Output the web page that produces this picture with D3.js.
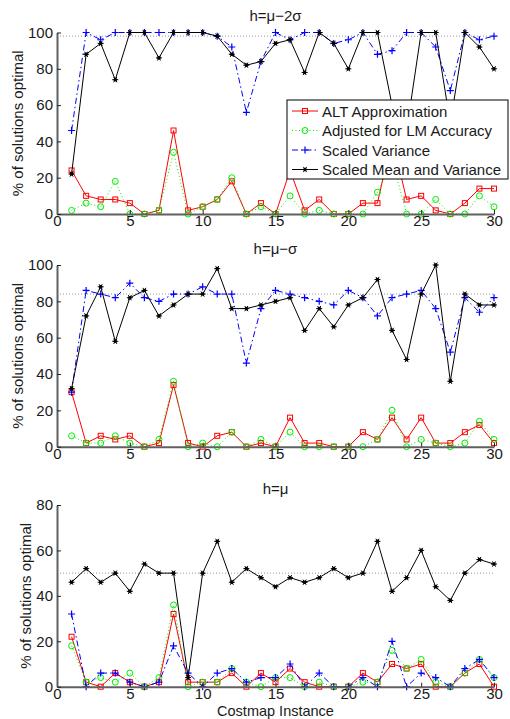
<!DOCTYPE html>
<html>
<head>
<meta charset="utf-8">
<script src="https://cdn.jsdelivr.net/npm/d3@7"></script>
<style>
    body { margin: 0; background: #fff; }
    svg text { font-family: "Liberation Sans", Arial, sans-serif; font-size: 15px; fill: #1a1a1a; }
</style>
</head>
<body>
<div id="chart"></div>
<script>
// costmap instance numbers (x axis)
const instances = [1, 2, 3, 4, 5, 6, 7, 8, 9, 10, 11, 12, 13, 14, 15,
    16, 17, 18, 19, 20, 21, 22, 23, 24, 25, 26, 27, 28, 29, 30];
const xTicks = [0, 5, 10, 15, 20, 25, 30];

const seriesNames = ["ALT Approximation", "Adjusted for LM Accuracy", "Scaled Variance", "Scaled Mean and Variance"];
const panelTitles = ["h=\u03bc\u22122\u03c3", "h=\u03bc\u2212\u03c3", "h=\u03bc"];
const yMaxes = [100, 100, 80];
const refLines = [98, 84, 50];

// h = mu - 2 sigma
const altMu2s = [24, 10, 8, 8, 6, 0, 2, 46, 2, 4, 8, 18, 0, 6, 0, 24, 2, 8, 0, 0, 6, 6, 42, 8, 10, 2, 0, 6, 14, 14];
const lmMu2s = [2, 6, 4, 18, 0, 0, 2, 34, 0, 4, 8, 20, 0, 4, 0, 10, 0, 2, 0, 0, 0, 12, 30, 0, 0, 8, 0, 0, 10, 4];
const varMu2s = [46, 100, 96, 100, 100, 100, 100, 100, 100, 100, 98, 92, 56, 84, 100, 96, 100, 100, 94, 96, 100, 88, 90, 100, 100, 92, 68, 100, 96, 98];
const meanVarMu2s = [22, 88, 94, 74, 100, 100, 86, 100, 100, 100, 98, 88, 82, 84, 94, 96, 78, 100, 94, 80, 100, 100, 60, 46, 100, 100, 50, 100, 92, 80];

// h = mu - sigma
const altMus = [30, 2, 6, 4, 6, 0, 2, 34, 2, 0, 6, 8, 0, 2, 0, 16, 2, 2, 0, 0, 8, 4, 16, 4, 16, 2, 2, 8, 12, 2];
const lmMus = [6, 2, 2, 6, 2, 0, 4, 36, 0, 2, 0, 8, 0, 4, 0, 8, 0, 0, 0, 0, 0, 4, 20, 0, 4, 2, 0, 2, 14, 4];
const varMus = [30, 86, 84, 82, 90, 82, 80, 84, 84, 88, 84, 84, 46, 76, 86, 84, 82, 80, 78, 86, 82, 72, 82, 84, 86, 76, 52, 82, 74, 82];
const meanVarMus = [32, 72, 88, 58, 82, 86, 72, 78, 84, 84, 98, 76, 76, 78, 80, 82, 64, 76, 66, 78, 82, 92, 64, 48, 84, 100, 36, 84, 78, 78];

// h = mu
const altMu = [22, 2, 0, 6, 2, 0, 2, 32, 2, 2, 2, 6, 0, 6, 2, 8, 2, 0, 0, 0, 6, 2, 10, 8, 10, 0, 0, 6, 10, 0];
const lmMu = [18, 2, 4, 2, 6, 0, 4, 36, 0, 2, 2, 8, 2, 0, 4, 4, 0, 2, 0, 0, 2, 2, 16, 8, 12, 2, 0, 6, 12, 4];
const varMu = [32, 0, 6, 6, 2, 0, 2, 18, 6, 0, 6, 8, 2, 4, 4, 10, 0, 6, 0, 0, 4, 0, 20, 0, 6, 4, 0, 8, 12, 4];
const meanVarMu = [46, 52, 46, 50, 42, 54, 50, 50, 4, 50, 64, 46, 52, 48, 44, 48, 46, 48, 52, 48, 50, 64, 42, 48, 60, 44, 38, 50, 56, 54];

const panelSeries = [
    [altMu2s, lmMu2s, varMu2s, meanVarMu2s],
    [altMus, lmMus, varMus, meanVarMus],
    [altMu, lmMu, varMu, meanVarMu]
];

// line / marker style per series
const styles = [
    { color: "#ff0000", dash: null, marker: "square" },
    { color: "#00ee00", dash: "1,2.5", marker: "circle" },
    { color: "#0000ff", dash: "6,3,1.5,3", marker: "plus" },
    { color: "#000000", dash: null, marker: "star" }
];

const W = 510, H = 719;
const svg = d3.select("#chart").append("svg")
    .attr("width", W)
    .attr("height", H);

const left = 57, right = 494;
const layout = [
    { top: 32.5, bottom: 214, labelX: 23 },
    { top: 265, bottom: 446.7, labelX: 23 },
    { top: 505, bottom: 686.7, labelX: 31 }
];

function drawMarker(g, type, color) {
    if (type === "square") {
        g.append("rect").attr("x", -2.5).attr("y", -2.5).attr("width", 5).attr("height", 5)
            .attr("fill", "none").attr("stroke", color).attr("stroke-width", 1);
    } else if (type === "circle") {
        g.append("circle").attr("r", 3)
            .attr("fill", "none").attr("stroke", color).attr("stroke-width", 1);
    } else if (type === "plus") {
        g.append("path").attr("d", "M-3.5,0H3.5M0,-3.5V3.5")
            .attr("stroke", color).attr("stroke-width", 1.2);
    } else {
        g.append("path").attr("d", "M-3,0H3M-1.6,-2.6L1.6,2.6M-1.6,2.6L1.6,-2.6")
            .attr("stroke", color).attr("stroke-width", 1);
        g.append("circle").attr("r", 1.8).attr("fill", color);
    }
}

class PerfPanel {
    constructor(idx) {
        this.idx = idx;
        this.initVis();
    }

    initVis() {
        let vis = this;
        let L = layout[vis.idx];

        vis.x = d3.scaleLinear().domain([0, 30]).range([left, right]);
        vis.y = d3.scaleLinear().domain([0, yMaxes[vis.idx]]).range([L.bottom, L.top]);
        vis.g = svg.append("g");

        // reference dotted line
        vis.g.append("line")
            .attr("x1", vis.x(0)).attr("x2", vis.x(30))
            .attr("y1", vis.y(refLines[vis.idx])).attr("y2", vis.y(refLines[vis.idx]))
            .attr("stroke", "#999").attr("stroke-width", 1)
            .attr("stroke-dasharray", "1,2");

        vis.updateVis();

        // axes
        let xAxis = d3.axisBottom(vis.x).tickValues(xTicks).tickSizeInner(-4).tickSizeOuter(0).tickPadding(1.5);
        let yAxis = d3.axisLeft(vis.y).ticks(yMaxes[vis.idx] / 20).tickSizeInner(-4).tickSizeOuter(0).tickPadding(4);

        let gx = vis.g.append("g").attr("transform", `translate(0,${L.bottom})`).call(xAxis);
        let gy = vis.g.append("g").attr("transform", `translate(${left},0)`).call(yAxis);
        [gx, gy].forEach(a => {
            a.attr("font-size", null).attr("font-family", null);
            a.select(".domain").attr("stroke", "#606060").attr("stroke-width", 2);
            a.selectAll(".tick line").attr("stroke", "#222");
        });

        vis.g.append("text")
            .attr("x", (left + right) / 2)
            .attr("y", L.top - 11.5)
            .attr("text-anchor", "middle")
            .text(panelTitles[vis.idx]);

        vis.g.append("text")
            .attr("transform", `translate(${L.labelX},${(L.top + L.bottom) / 2}) rotate(-90)`)
            .attr("text-anchor", "middle")
            .text("% of solutions optimal");
    }

    updateVis() {
        let vis = this;
        let line = d3.line().x(d => vis.x(d[0])).y(d => vis.y(d[1]));

        panelSeries[vis.idx].forEach((vals, s) => {
            let pts = instances.map((n, i) => [n, vals[i]]);
            let st = styles[s];
            vis.g.append("path")
                .datum(pts)
                .attr("d", line)
                .attr("fill", "none")
                .attr("stroke", st.color)
                .attr("stroke-width", 1)
                .attr("stroke-dasharray", st.dash);
            vis.g.selectAll(".m" + s)
                .data(pts)
                .enter()
                .append("g")
                .attr("class", "m" + s)
                .attr("transform", d => `translate(${vis.x(d[0])},${vis.y(d[1])})`)
                .each(function () { drawMarker(d3.select(this), st.marker, st.color); });
        });
    }
}

const panels = [0, 1, 2].map(i => new PerfPanel(i));

// legend (top panel)
const legend = svg.append("g").attr("transform", "translate(287,100)");
legend.append("rect")
    .attr("width", 221).attr("height", 79)
    .attr("fill", "#fff").attr("stroke", "#000").attr("stroke-width", 1);

const legendItems = legend.selectAll(".legend-item")
    .data(seriesNames)
    .enter()
    .append("g")
    .attr("class", "legend-item")
    .attr("transform", (d, i) => `translate(0,${11 + i * 19.5})`);

legendItems.append("line")
    .attr("x1", 5).attr("x2", 31)
    .attr("stroke", (d, i) => styles[i].color)
    .attr("stroke-width", 1)
    .attr("stroke-dasharray", (d, i) => styles[i].dash);

legendItems.each(function (d, i) {
    let m = d3.select(this).append("g").attr("transform", "translate(18,0)");
    drawMarker(m, styles[i].marker, styles[i].color);
});

legendItems.append("text")
    .attr("x", 35)
    .attr("y", 5.5)
    .text(d => d);

svg.append("text")
    .attr("x", (left + right) / 2)
    .attr("y", 715.5)
    .attr("text-anchor", "middle")
    .style("font-size", "14.5px")
    .text("Costmap Instance");
</script>
</body>
</html>
